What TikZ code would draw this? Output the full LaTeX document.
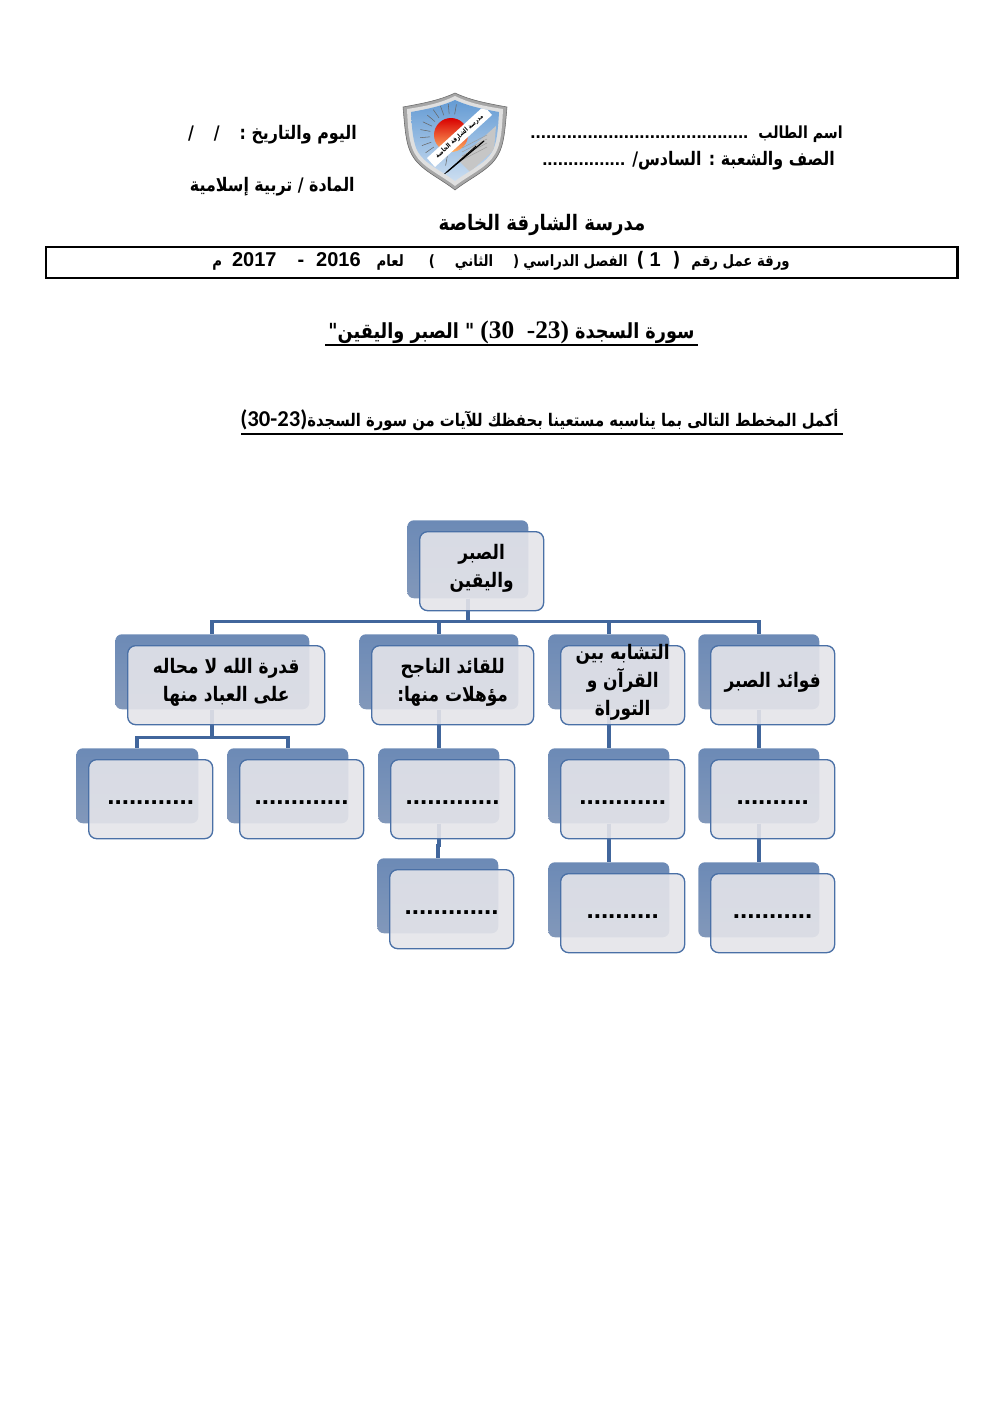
\documentclass[tikz,border=0pt]{standalone}
\usepackage{fontspec}
\usetikzlibrary{calc}
\TeXXeTstate=1
\newfontfamily\arabicfont[Script=Arabic,FakeStretch=0.85]{DejaVu Sans}
\newfontfamily\latnfont{Liberation Sans}
\newfontfamily\serifnum{Liberation Serif}
\newfontfamily\calinum{Carlito}
\newcommand{\ar}[1]{\beginR #1\endR}
\newcommand{\lt}[1]{\beginL{\latnfont #1}\endL{}}
\newcommand{\gap}[1]{\hspace{#1\dimexpr0.75pt\relax}}
\newcommand{\boxline}[1]{\raisebox{1.9pt}[\height][\depth]{\ar{#1}}}
\newcommand{\dotrow}[1]{\raisebox{-2.2pt}[\height][\depth]{#1}}
\definecolor{backtop}{HTML}{6C8AB6}
\definecolor{backlow}{HTML}{8298BA}
\definecolor{frontgray}{HTML}{E4E4E9}
\definecolor{edgeblue}{HTML}{4A70A6}
\definecolor{linkblue}{HTML}{41669C}
\definecolor{shieldblue}{HTML}{5E97D2}

\begin{document}
\begin{tikzpicture}[
  x=0.75pt, y=-0.75pt,
  backbox/.style  = {top color=backtop, bottom color=backlow, rounded corners=5pt, inner sep=0pt},
  frontbox/.style = {draw=edgeblue, line width=1pt, fill=frontgray, fill opacity=0.9, text opacity=1,
                     rounded corners=6pt, inner sep=0pt, font=\arabicfont\bfseries\fontsize{15}{21}\selectfont, align=center},
  dotline/.style  = {font=\latnfont\bfseries\fontsize{19.5}{21}\selectfont},
  link/.style     = {draw=linkblue, line width=2.8pt},
  head/.style     = {inner sep=0pt, font=\arabicfont\bfseries\fontsize{14}{16}\selectfont},
  rule/.style     = {line width=1.7pt},
]
  \useasboundingbox (0,0) rectangle (992,1403);

  % header
  \node[head, anchor=east] (student) at (843,134) {\ar{{\fontsize{12.5}{16}\selectfont اسم الطالب}\gap{10}\lt{..........................................}}};
  \node[head, anchor=east] (grade)   at (835,161) {\ar{الصف والشعبة : السادس/\gap{7}\lt{................}}};
  \node[head, anchor=east] (day)     at (357,135) {\ar{اليوم والتاريخ :\gap{20}/\gap{20}/}};
  \node[head, anchor=east] (subject) at (355,187) {\ar{المادة / تربية إسلامية}};
  \node[head, font=\arabicfont\bfseries\fontsize{16}{18}\selectfont] (school) at (542,225) {\ar{مدرسة الشارقة الخاصة}};

  \node[draw, rule, minimum width=683.5pt, minimum height=23pt, inner sep=0pt, anchor=north west] (sheet) at (45,246) {};
  \node[inner sep=0pt, anchor=east, font=\arabicfont\bfseries\fontsize{11.7}{14}\selectfont] (sheettext) at (790,261)
        {\ar{ورقة عمل رقم\gap{11}{\fontsize{15}{14}\selectfont (\gap{12}\lt{1}\gap{5})}\gap{9}الفصل الدراسي\gap{4}(\gap{20}الثاني\gap{20})\gap{25}لعام\gap{16}{\fontsize{15}{14}\selectfont\lt{2016}\gap{12}\lt{-}\gap{21}\lt{2017}}\gap{10}م}};

  \node[inner sep=0pt, font=\arabicfont\bfseries\fontsize{15.6}{18}\selectfont] (title) at (511.5,332)
        {\ar{سورة السجدة \beginL{\serifnum\fontsize{19}{18}\selectfont (30 \ -23)}\endL{} " الصبر واليقين"}};
  \coordinate (titleL) at (325,345);
  \coordinate (titleR) at (698,345);
  \draw[rule] (titleL) -- (titleR);

  \node[inner sep=0pt, font=\arabicfont\bfseries\fontsize{13.05}{15}\selectfont] (task) at (539.5,420)
        {\ar{أكمل المخطط التالى بما يناسبه مستعينا بحفظك للآيات من سورة السجدة\beginL{\calinum\fontsize{17}{15}\selectfont (30-23)}\endL{}}};
  \coordinate (taskL) at (241,434);
  \coordinate (taskR) at (843,434);
  \draw[rule] (taskL) -- (taskR);

  % logo
  \begin{scope}
    \fill[gray!70, draw=black!60, line width=0.4pt] (403,107) .. controls (425,103) and (440,100) .. (455,93)
      .. controls (470,100) and (485,103) .. (507,107)
      .. controls (505,130) and (504,145) .. (498,155)
      .. controls (490,170) and (470,178) .. (455,190)
      .. controls (440,178) and (420,170) .. (412,155)
      .. controls (406,145) and (405,130) .. (403,107) -- cycle;
    \fill[gray!25] (407,109) .. controls (427,106) and (441,103) .. (455,96)
      .. controls (469,103) and (483,106) .. (503,109)
      .. controls (502,130) and (501,144) .. (495,154)
      .. controls (488,167) and (469,175) .. (455,186)
      .. controls (441,175) and (422,167) .. (415,154)
      .. controls (409,144) and (408,130) .. (407,109) -- cycle;
    \path[clip] (411,112) .. controls (428,109) and (442,106) .. (455,100)
      .. controls (468,106) and (482,109) .. (499,112)
      .. controls (498,130) and (497,143) .. (492,152)
      .. controls (485,164) and (468,171) .. (455,181)
      .. controls (442,171) and (425,164) .. (418,152)
      .. controls (413,143) and (412,130) .. (411,112) -- cycle;
    \shade[top color=shieldblue, bottom color=shieldblue!25] (400,95) rectangle (510,190);
    \foreach \a in {100,115,...,280} {
      \draw[black!60, line width=0.4pt] (451,135) ++(\a:21) -- ++(\a:10);
    }
    \shade[top color=red!85!black, bottom color=orange!60] (451,135) circle (17);
    \fill[gray!45] (458,160) -- (496,126) -- (494,150) -- (470,172) -- cycle;
    \foreach \s in {0,4,8,12} {
      \draw[gray!75, line width=0.4pt] ($(462,148)+(0,\s)$) -- ($(487,135)+(0,\s)$);
    }
    \draw[black, line width=0.9pt] (447,172) -- (484,141);
    \draw[black, line width=0.6pt] (440,178) -- (476,146);
    \fill[white] (427,158) -- (484,106) -- (492,115) -- (435,167) -- cycle;
  \end{scope}
  \node[rotate=42, inner sep=0pt, font=\arabicfont\bfseries\fontsize{4.8}{5}\selectfont] (crest) at (459.5,136.5) {\ar{مدرسة الشارقة الخاصة}};

  % back layer
  \foreach \id/\xa/\ya/\xb/\yb in {
      root/407/520/528/598,
      A/115/634/309/709, B/359/634/518/709, C/548/634/669/709, D/698/634/819/709,
      Aa/76/748/198/823, Ab/227/748/348/823, Ba/378/748/499/823, Ca/548/748/669/823, Da/698/748/819/823,
      Bb/377/858/498/933, Cb/548/862/669/937, Db/698/862/819/937} {
    \node[backbox, minimum width={(\xb-\xa)*0.75pt}, minimum height={(\yb-\ya)*0.75pt}, anchor=north west] (back\id) at (\xa,\ya) {};
  }

  % connectors
  \foreach \kid in {A,B,C,D} {
    \draw[link] (backroot.south) -- ++(0,23) -| (back\kid.north);
  }
  \foreach \kid in {Aa,Ab} {
    \draw[link] (backA.south) -- ++(0,28) -| (back\kid.north);
  }
  \draw[link] (backB.south) -- (backBa.north);
  \draw[link] (backC.south) -- (backCa.north);
  \draw[link] (backD.south) -- (backDa.north);
  \draw[link] (backBa.south) -- ++(0,22) -| (backBb.north);
  \draw[link] (backCa.south) -- (backCb.north);
  \draw[link] (backDa.south) -- (backDb.north);

  % front layer
  \tikzset{box/.style n args={4}{frontbox, minimum width={(#3-#1)*0.75pt}, minimum height={(#4-#2)*0.75pt}, anchor=north west, at={(#1,#2)}}}
  \node[box={419}{531}{543}{610}] (root) {\boxline{الصبر}\\\boxline{واليقين}};
  \node[box={127}{645}{324}{724}] (frontA) {\boxline{قدرة الله لا محاله}\\\boxline{على العباد منها}};
  \node[box={371}{645}{533}{724}] (frontB) {\boxline{للقائد الناجح}\\\boxline{مؤهلات منها:}};
  \node[box={560}{645}{684}{724}] (frontC) {\boxline{التشابه بين}\\\boxline{القرآن و}\\\boxline{التوراة}};
  \node[box={710}{645}{834}{724}] (frontD) {\boxline{فوائد الصبر}};
  \node[box={88}{759}{212}{838}, dotline] (frontAa) {\dotrow{............}};
  \node[box={239}{759}{363}{838}, dotline] (frontAb) {\dotrow{.............}};
  \node[box={390}{759}{514}{838}, dotline] (frontBa) {\dotrow{.............}};
  \node[box={560}{759}{684}{838}, dotline] (frontCa) {\dotrow{............}};
  \node[box={710}{759}{834}{838}, dotline] (frontDa) {\dotrow{..........}};
  \node[box={389}{869}{513}{948}, dotline] (frontBb) {\dotrow{.............}};
  \node[box={560}{873}{684}{952}, dotline] (frontCb) {\dotrow{..........}};
  \node[box={710}{873}{834}{952}, dotline] (frontDb) {\dotrow{...........}};
\end{tikzpicture}
\end{document}
